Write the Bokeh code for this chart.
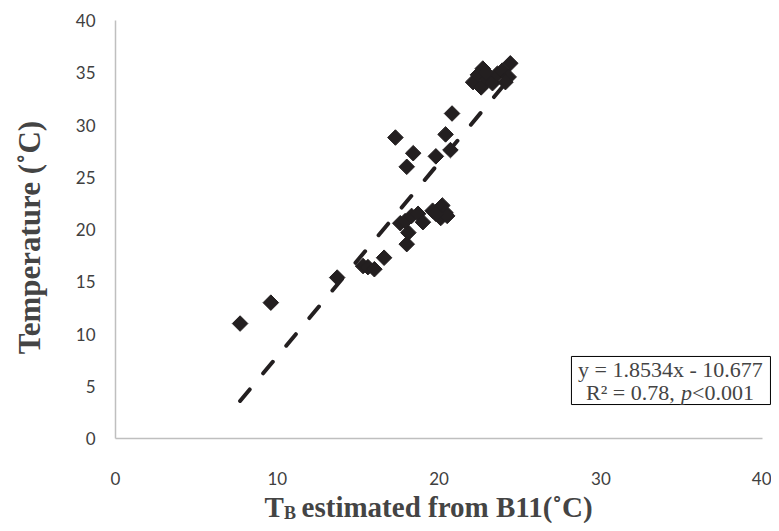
from bokeh.plotting import figure
from bokeh.models import Range1d, FixedTicker, Label, BoxAnnotation
from bokeh.embed import file_html
from bokeh.resources import INLINE
import numpy as np

# Data
tb = [7.7, 9.6, 13.7, 15.3, 15.6, 16.0, 16.6,
      17.3, 18.0, 18.4, 19.8, 20.4, 20.8, 20.7,
      18.0, 18.1, 17.6, 17.9, 18.3, 18.7, 19.0, 19.6, 20.2, 20.4, 20.1, 20.5, 19.8,
      22.1, 22.6, 22.7, 22.4, 23.0, 23.3, 23.6, 23.9, 24.4, 24.3, 24.1, 22.9]
temp = [11.0, 13.0, 15.4, 16.5, 16.4, 16.2, 17.3,
        28.8, 26.0, 27.3, 27.0, 29.1, 31.1, 27.6,
        18.6, 19.7, 20.6, 20.8, 21.3, 21.5, 20.7, 21.8, 22.3, 21.6, 21.1, 21.3, 21.5,
        34.1, 33.6, 35.4, 34.8, 34.4, 34.0, 34.9, 35.2, 35.9, 34.6, 34.1, 35.0]
slope_v = 1.8534
intercept_v = -10.677
x_ticks = [0, 10, 20, 30, 40]
y_ticks = [0, 5, 10, 15, 20, 25, 30, 35, 40]

p = figure(width=771, height=523, output_backend="svg", toolbar_location=None,
           x_range=Range1d(-7.108, 40.544), y_range=Range1d(-8.134, 41.914),
           min_border_left=0, min_border_right=0, min_border_top=0,
           min_border_bottom=0)
p.outline_line_color = None
p.grid.visible = False
p.background_fill_color = "white"
p.border_fill_color = "white"

# trend line
xs = np.array([min(tb), max(tb)])
p.line(xs, slope_v * xs + intercept_v, line_color="#231f20", line_width=4,
       line_dash="15 21", line_cap="round")

p.scatter(tb, temp, marker="square", size=11, angle=np.pi / 4,
          fill_color="#231f20", line_color="#231f20")

for ax in (p.xaxis[0], p.yaxis[0]):
    ax.fixed_location = 0
    ax.axis_line_color = "#bfbfbf"
    ax.axis_line_width = 1.5
    ax.major_tick_line_color = None
    ax.minor_tick_line_color = None
    ax.major_label_text_font = "Lato"
    ax.major_label_text_font_size = "17px"
    ax.major_label_text_color = "#404040"
    ax.bounds = (0, 40)

p.xaxis.ticker = FixedTicker(ticks=x_ticks)
p.yaxis.ticker = FixedTicker(ticks=y_ticks)
p.xaxis.major_label_standoff = 28
p.yaxis.major_label_standoff = 14

tfont = "Liberation Serif"
# y axis title
p.add_layout(Label(x=-5.30, y=19.23, text="Temperature (\u02daC)", text_font=tfont,
                   text_font_style="bold", text_font_size="31px", angle=np.pi / 2,
                   text_align="center", text_baseline="middle"))

# x axis title with subscript
p.add_layout(Label(x=9.21, y=-6.60, text="T", text_font=tfont, text_font_style="bold",
                   text_font_size="29px", text_baseline="alphabetic", text_align="left"))
p.add_layout(Label(x=10.41, y=-7.10, text="B", text_font=tfont, text_font_style="bold",
                   text_font_size="18px", text_baseline="alphabetic", text_align="left"))
p.add_layout(Label(x=11.50, y=-6.60, text="estimated from B11(\u02daC)", text_font=tfont,
                   text_font_style="bold", text_font_size="29px",
                   text_baseline="alphabetic", text_align="left"))

# equation box
p.add_layout(BoxAnnotation(left=28.18, right=40.48, bottom=3.25, top=7.85,
                           fill_color="white", fill_alpha=1.0,
                           line_color="black", line_alpha=1.0, line_width=1))
p.add_layout(Label(x=34.30, y=6.60, text="y = 1.8534x - 10.677", text_font=tfont,
                   text_font_size="22px", text_align="center", text_baseline="middle"))
p.add_layout(Label(x=29.08, y=4.40, text="R\u00b2 = 0.78,", text_font=tfont,
                   text_font_size="22px", text_align="left", text_baseline="middle"))
p.add_layout(Label(x=34.95, y=4.40, text="p", text_font=tfont, text_font_style="italic",
                   text_font_size="22px", text_align="left", text_baseline="middle"))
p.add_layout(Label(x=35.63, y=4.40, text="<0.001", text_font=tfont,
                   text_font_size="22px", text_align="left", text_baseline="middle"))

open("out.html", "w").write(file_html(p, INLINE))
